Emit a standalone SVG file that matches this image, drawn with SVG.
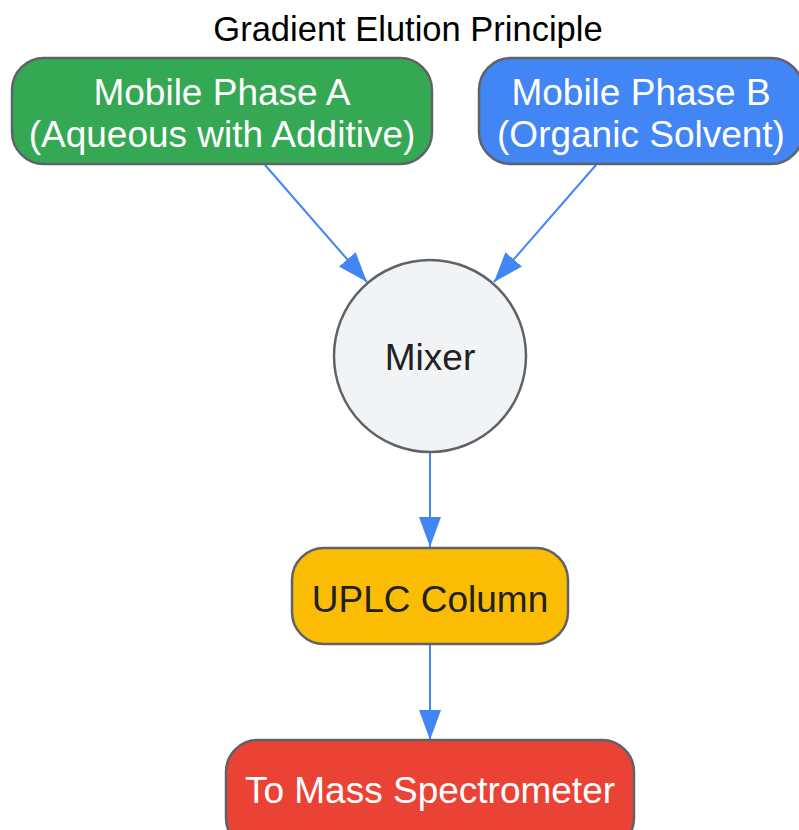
<svg xmlns="http://www.w3.org/2000/svg" width="799" height="830" viewBox="0 0 799 830">
<defs>
<style>
.node{stroke:#5f6368;stroke-width:2.5}
.lbl{font-family:"Liberation Sans",Arial,sans-serif;font-size:37px;text-anchor:middle}
.w{fill:#ffffff}
.d{fill:#202124}
.edge{stroke:#4285F4;stroke-width:2;fill:none}
</style>
<marker id="arr" markerUnits="userSpaceOnUse" markerWidth="30" markerHeight="22" refX="30" refY="11" orient="auto">
<path d="M0,0 L30,11 L0,22 z" fill="#4285F4"/>
</marker>
</defs>
<rect width="799" height="830" fill="#ffffff"/>
<text x="408" y="41" font-family="Liberation Sans, Arial, sans-serif" font-size="34.5" text-anchor="middle" fill="#000000">Gradient Elution Principle</text>
<g id="connectors">
<line class="edge" x1="265" y1="165" x2="367" y2="282" marker-end="url(#arr)"/>
<line class="edge" x1="596" y1="165" x2="494" y2="282" marker-end="url(#arr)"/>
<line class="edge" x1="430" y1="453" x2="430" y2="547" marker-end="url(#arr)"/>
<line class="edge" x1="430" y1="644" x2="430" y2="740" marker-end="url(#arr)"/>
</g>
<g id="mobileA">
<rect class="node" x="12" y="58" width="420" height="106" rx="32" fill="#34A853"/>
<text class="lbl w" x="222" y="105">Mobile Phase A</text>
<text class="lbl w" x="222" y="147">(Aqueous with Additive)</text>
</g>
<g id="mobileB">
<rect class="node" x="479" y="58" width="324" height="106" rx="32" fill="#4285F4"/>
<text class="lbl w" x="641" y="105">Mobile Phase B</text>
<text class="lbl w" x="641" y="147">(Organic Solvent)</text>
</g>
<g id="mixer">
<circle class="node" cx="430" cy="356" r="96" fill="#F1F3F4"/>
<text class="lbl d" x="430" y="370">Mixer</text>
</g>
<g id="column">
<rect class="node" x="292" y="548" width="276" height="96" rx="32" fill="#FBBC04"/>
<text class="lbl d" x="430" y="612">UPLC Column</text>
</g>
<g id="ms">
<rect class="node" x="226" y="740" width="408" height="110" rx="32" fill="#EA4335"/>
<text class="lbl w" x="430" y="803">To Mass Spectrometer</text>
</g>
</svg>
